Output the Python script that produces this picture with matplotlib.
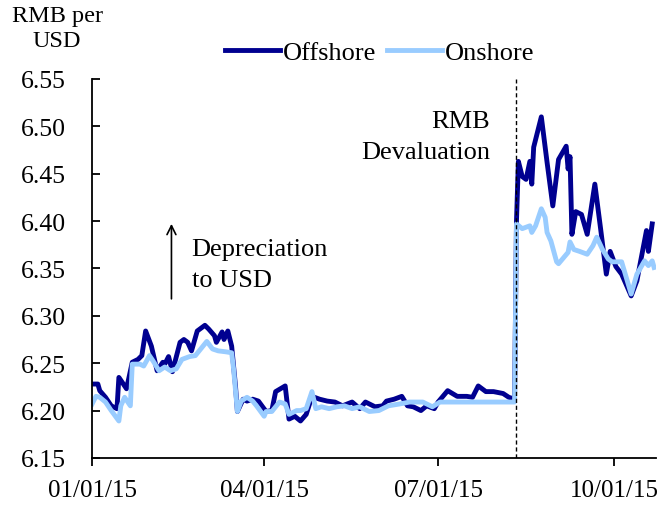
import matplotlib
matplotlib.use("Agg")
import matplotlib.pyplot as plt
import matplotlib.dates as mdates
import pandas as pd

# days since 01/01/15 and RMB per USD
off_day = [0, 3, 4, 7, 10, 13, 14, 18, 21, 24, 26, 28, 31, 34, 37, 38, 40, 42,
           46, 48, 50, 52, 55, 59, 61, 64, 65, 68, 69, 71, 73, 75, 76, 79, 81,
           84, 87, 91, 94, 96, 101, 103, 106, 109, 112, 115, 119, 123, 127, 131,
           136, 140, 143, 148, 152, 154, 158, 162, 165, 168, 172, 175, 179, 181,
           186, 191, 196, 199, 202, 206, 210, 215, 218, 221, 222, 223, 225, 227,
           229, 230, 231, 235, 238, 241, 244, 248, 249, 250, 251, 253, 256, 259,
           263, 266, 269, 271, 274, 277, 282, 285, 290, 291, 293]
off_val = [6.228, 6.228, 6.221, 6.214, 6.205, 6.202, 6.235, 6.223, 6.251, 6.254,
           6.258, 6.284, 6.268, 6.242, 6.251, 6.249, 6.257, 6.241, 6.272, 6.275,
           6.272, 6.263, 6.284, 6.290, 6.286, 6.279, 6.272, 6.283, 6.275, 6.284,
           6.268, 6.226, 6.199, 6.212, 6.210, 6.212, 6.210, 6.199, 6.200, 6.220,
           6.226, 6.191, 6.194, 6.189, 6.196, 6.215, 6.212, 6.210, 6.209, 6.205,
           6.209, 6.202, 6.209, 6.204, 6.205, 6.210, 6.212, 6.215, 6.205, 6.204,
           6.200, 6.205, 6.202, 6.209, 6.221, 6.215, 6.215, 6.214, 6.226, 6.220,
           6.220, 6.218, 6.214, 6.212, 6.400, 6.463, 6.447, 6.444, 6.463, 6.439,
           6.478, 6.510, 6.462, 6.416, 6.465, 6.479, 6.455, 6.468, 6.386, 6.410,
           6.407, 6.386, 6.439, 6.392, 6.344, 6.368, 6.352, 6.344, 6.321, 6.337,
           6.390, 6.368, 6.397]

on_day = [0, 2, 4, 7, 10, 14, 15, 17, 20, 21, 25, 27, 30, 32, 35, 38, 41, 44,
          47, 51, 54, 58, 60, 63, 66, 70, 73, 74, 76, 78, 81, 84, 86, 90, 91, 94,
          98, 101, 103, 107, 109, 112, 115, 117, 120, 124, 128, 132, 136, 140,
          145, 150, 155, 161, 166, 173, 178, 182, 187, 203, 218, 221, 222, 225,
          229, 230, 232, 235, 237, 238, 240, 243, 244, 249, 250, 252, 255, 259,
          262, 264, 267, 270, 272, 277, 282, 285, 289, 291, 293, 294]
on_val = [6.207, 6.215, 6.214, 6.209, 6.200, 6.189, 6.205, 6.214, 6.205, 6.249,
          6.249, 6.247, 6.258, 6.252, 6.242, 6.246, 6.242, 6.244, 6.254, 6.257,
          6.258, 6.268, 6.273, 6.265, 6.263, 6.262, 6.261, 6.244, 6.199, 6.210,
          6.214, 6.210, 6.205, 6.194, 6.199, 6.199, 6.209, 6.207, 6.196, 6.200,
          6.200, 6.202, 6.220, 6.202, 6.204, 6.202, 6.204, 6.205, 6.202, 6.204,
          6.199, 6.200, 6.205, 6.207, 6.209, 6.209, 6.204, 6.209, 6.209, 6.209,
          6.209, 6.209, 6.397, 6.392, 6.395, 6.388, 6.395, 6.413, 6.404, 6.388,
          6.379, 6.357, 6.355, 6.367, 6.378, 6.370, 6.368, 6.365, 6.374, 6.383,
          6.370, 6.360, 6.357, 6.357, 6.323, 6.344, 6.358, 6.353, 6.358, 6.351]

start = pd.Timestamp("2015-01-01")
off_dates = start + pd.to_timedelta(off_day, unit="D")
on_dates = start + pd.to_timedelta(on_day, unit="D")
devaluation = pd.Timestamp("2015-08-10 12:00")

plt.rcParams['font.family'] = ['Liberation Serif', 'DejaVu Serif']

fig = plt.figure(figsize=(6.58, 5.06), dpi=100)
ax = fig.add_axes([0.140, 0.093, 0.857, 0.749])

ax.plot(off_dates, off_val, color="#000090", lw=3.5, label="Offshore")
ax.plot(on_dates, on_val, color="#99CCFF", lw=3.5, label="Onshore")
ax.axvline(devaluation, color="black", lw=1, ls=(0, (3, 2)))

ax.set_ylim(6.15, 6.55)
ax.set_xlim(start, start + pd.Timedelta(days=295))
ax.set_yticks([6.15, 6.20, 6.25, 6.30, 6.35, 6.40, 6.45, 6.50, 6.55])
ax.yaxis.set_major_formatter(matplotlib.ticker.FormatStrFormatter('%.2f'))
ax.set_xticks(pd.to_datetime(["2015-01-01", "2015-04-01", "2015-07-01", "2015-10-01"]))
ax.xaxis.set_major_formatter(mdates.DateFormatter('%m/%d/%y'))

for s in ['top', 'right']:
    ax.spines[s].set_visible(False)
ax.spines['left'].set_linewidth(1.3)
ax.spines['bottom'].set_linewidth(1.3)
ax.tick_params(axis='y', direction='in', length=6, width=1.3, pad=19, labelsize=18.5)
ax.tick_params(axis='x', direction='out', length=6, width=1.3, pad=9, labelsize=18)

ax.text(pd.Timestamp("2015-07-28"), 6.489, "RMB\nDevaluation", fontsize=19,
        ha='right', va='center', linespacing=1.5, multialignment='right')
ax.text(pd.Timestamp("2015-02-22"), 6.354, "Depreciation\nto USD", fontsize=19,
        ha='left', va='center', linespacing=1.5)
ax.annotate("", xy=(pd.Timestamp("2015-02-11 12:00"), 6.40),
            xytext=(pd.Timestamp("2015-02-11 12:00"), 6.315),
            arrowprops=dict(arrowstyle='->', lw=1.2, color='black',
                            mutation_scale=16))

fig.text(57 / 658, 1 - 6 / 506, "RMB per\nUSD", fontsize=17.5, ha='center',
         va='top', linespacing=1.25)

fig.legend(loc='center', bbox_to_anchor=(0.577, 0.895), ncol=2, frameon=False,
           fontsize=19, handlelength=2.1, handletextpad=0.1, columnspacing=0.4)

fig.savefig("out.png", dpi=100)
